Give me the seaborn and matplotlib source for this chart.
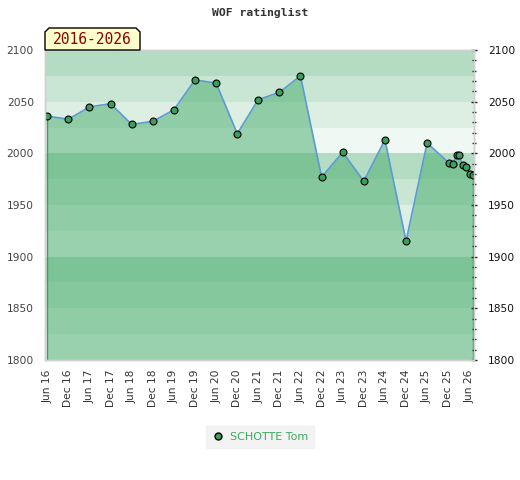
import numpy as np
import pandas as pd
import matplotlib
matplotlib.use("Agg")
import matplotlib.pyplot as plt
import matplotlib.dates as mdates
from matplotlib.patches import Polygon
from matplotlib.lines import Line2D
import seaborn as sns

# rating list dates and values
dates = [
    "2016-06-01", "2016-12-01", "2017-06-01", "2017-12-01", "2018-06-01",
    "2018-12-01", "2019-06-01", "2019-12-01", "2020-06-01", "2020-12-01",
    "2021-06-01", "2021-12-01", "2022-06-01", "2022-12-01", "2023-06-01",
    "2023-12-01", "2024-06-01", "2024-12-01", "2025-06-01",
    "2025-12-04", "2026-01-07", "2026-02-16", "2026-03-04", "2026-04-04",
    "2026-05-07", "2026-06-10", "2026-07-04",
]
ratings = [
    2036, 2033, 2045, 2048, 2028, 2031, 2042, 2071, 2068, 2019,
    2052, 2059, 2075, 1977, 2001, 1973, 2013, 1915, 2010,
    1991, 1990, 1998, 1998, 1989, 1987, 1980, 1979,
]
player = "SCHOTTE Tom"
period = "2016-2026"
title = "WOF ratinglist"

df = pd.DataFrame({"date": pd.to_datetime(dates), "rating": ratings})

sns.set_style("white")
plt.rcParams["font.family"] = ["DejaVu Sans"]

fig = plt.figure(figsize=(5.2, 4.8), dpi=100)
ax = fig.add_axes([45 / 520, 1 - 360 / 480, 429 / 520, 310 / 480])

ymin, ymax = 1800, 2100
band_cols = ["#f0f8f3", "#ddeee3", "#c8e6d3", "#b3dcc2"]
for i, lo in enumerate(np.arange(ymin, ymax, 25)):
    ax.axhspan(lo, lo + 25, color=band_cols[i % 4], lw=0, zorder=0)

ax.fill_between(df["date"], ymin, df["rating"], color="#4cae70", alpha=0.53,
                lw=0, zorder=1)
ax.vlines([df["date"].iloc[0], df["date"].iloc[-1]], ymin,
          [df["rating"].iloc[0], df["rating"].iloc[-1]],
          color="#3a9e5c", lw=1, zorder=2)

sns.lineplot(data=df, x="date", y="rating", ax=ax, color="#5b9bd5", lw=1.2,
             zorder=3)
sns.scatterplot(data=df, x="date", y="rating", ax=ax, color="#3a9e5c",
                edgecolor="black", linewidth=0.8, s=25, zorder=4)

ax.set_ylim(ymin, ymax)
ax.set_xlim(df["date"].iloc[0] - pd.Timedelta(days=20),
            df["date"].iloc[-1] + pd.Timedelta(days=8))
ax.set_xlabel("")
ax.set_ylabel("")

ticks = pd.date_range("2016-06-01", "2026-06-01", freq="6MS")
ax.set_xticks(ticks)
ax.set_xticklabels([t.strftime("%b %y") for t in ticks], rotation=90,
                   fontsize=7.7, color="#333333")
ax.tick_params(axis="x", length=0, pad=7)

yt = np.arange(ymin, ymax + 1, 50)
ax.set_yticks(yt)
ax.set_yticklabels([str(v) for v in yt], fontsize=7.7, color="#444444")
ax.tick_params(axis="y", length=0, pad=8)

ax2 = ax.twinx()
ax2.set_ylim(ymin, ymax)
ax2.set_yticks(yt)
ax2.set_yticklabels([str(v) for v in yt], fontsize=7.7, color="#111111")
ax2.set_yticks(np.arange(ymin, ymax + 1, 10), minor=True)
ax2.tick_params(axis="y", which="major", direction="inout", length=4,
                width=1, pad=8)
ax2.tick_params(axis="y", which="minor", direction="inout", length=3,
                width=1)

for a in (ax, ax2):
    for s in a.spines.values():
        s.set_color("#d0d0d0")
        s.set_linewidth(1)

fig.text(0.5, 1 - 13 / 480, title, ha="center", va="center",
         family="DejaVu Sans Mono", fontweight="bold", fontsize=8.2,
         color="#333333")

# period label box with cut top corners
x0, x1, y0, y1, c = 45, 140, 480 - 50, 480 - 28, 4
pts = [(x0, y0), (x1, y0), (x1, y1 - c), (x1 - c, y1), (x0 + c, y1),
       (x0, y1 - c)]
fig.patches.append(Polygon([(px / 520, py / 480) for px, py in pts],
                           closed=True, transform=fig.transFigure,
                           facecolor="#ffffcc", edgecolor="black", lw=1,
                           zorder=10))
fig.text((x0 + x1) / 2 / 520, (y0 + y1) / 2 / 480 - 0.002, period,
         ha="center", va="center", family="DejaVu Sans Mono",
         fontsize=10.5, color="#8b0000", zorder=11)

handle = Line2D([], [], marker="o", ls="none", markerfacecolor="#3a9e5c",
                markeredgecolor="black", markersize=5)
leg = fig.legend([handle], [player], loc="center",
                 bbox_to_anchor=(260 / 520, 1 - 437 / 480), frameon=True,
                 fontsize=8, handletextpad=0.6, borderpad=0.55,
                 fancybox=False, handlelength=1)
leg.get_frame().set_facecolor("#f0f0f0")
leg.get_frame().set_edgecolor("#f0f0f0")
leg.get_texts()[0].set_color("#3aaa5a")

fig.savefig("out.png", dpi=100)
plt.close(fig)
